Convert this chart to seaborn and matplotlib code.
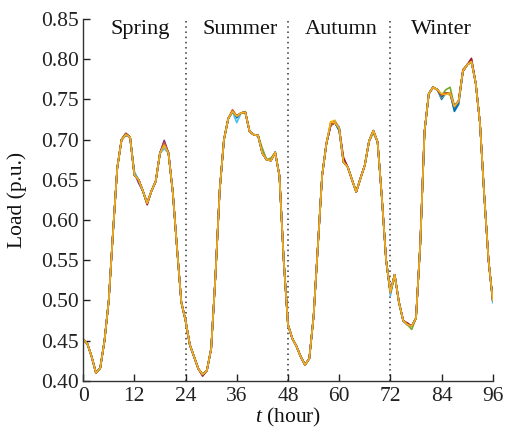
import numpy as np
import pandas as pd
import matplotlib
matplotlib.use("Agg")
import matplotlib.pyplot as plt
import seaborn as sns

# ---------------- data ----------------
hours = list(range(0, 97))

load_base = [
    0.452, 0.446, 0.430, 0.410, 0.416, 0.450, 0.500, 0.585, 0.665, 0.700,  # 0-9
    0.707, 0.703, 0.656, 0.650, 0.636, 0.621, 0.636, 0.648, 0.683, 0.695,  # 10-19
    0.683, 0.635, 0.565, 0.498, 0.475, 0.445, 0.430, 0.415, 0.408, 0.413,  # 20-29
    0.440, 0.530, 0.637, 0.700, 0.726, 0.735, 0.729, 0.733, 0.734, 0.710,  # 30-39
    0.706, 0.705, 0.683, 0.675, 0.674, 0.684, 0.655, 0.550, 0.470, 0.453,  # 40-49
    0.443, 0.430, 0.420, 0.428, 0.480, 0.567, 0.655, 0.695, 0.718, 0.721,  # 50-59
    0.714, 0.672, 0.666, 0.650, 0.635, 0.652, 0.668, 0.698, 0.711, 0.697,  # 60-69
    0.628, 0.550, 0.510, 0.532, 0.498, 0.475, 0.470, 0.468, 0.478, 0.570,  # 70-79
    0.710, 0.757, 0.765, 0.762, 0.755, 0.758, 0.758, 0.741, 0.748, 0.785,  # 80-89
    0.793, 0.797, 0.770, 0.720, 0.630, 0.550, 0.500,                       # 90-96
]

# small scenario-specific departures from the base profile (hour: delta)
dev_s1 = {10: -0.002, 36: -0.002, 60: -0.003, 84: -0.005, 87: -0.006, 88: -0.004, 96: -0.002}
dev_s2 = {10: 0.001, 19: 0.002, 35: 0.001, 59: 0.002, 87: -0.002}
dev_s3 = {9: -0.002, 38: 0.001, 58: 0.004, 59: 0.003, 84: -0.003, 86: -0.003}
dev_s4 = {19: 0.004, 12: 0.003, 13: -0.004, 61: 0.002, 91: 0.002}
dev_s5 = {42: 0.006, 44: 0.003, 86: 0.007, 85: 0.004, 77: -0.004, 68: -0.003}
dev_s6 = {36: -0.008, 19: -0.006, 12: 0.004, 72: -0.004, 96: -0.003, 60: 0.002}
dev_s7 = {61: 0.006, 91: 0.004, 15: -0.002, 28: -0.002, 76: 0.002}
dev_s8 = {87: -0.004, 60: -0.002, 84: -0.002}
dev_s9 = {35: 0.002, 19: 0.001, 89: 0.002}
dev_s10 = {58: 0.004, 84: 0.002, 85: -0.002, 10: -0.001, 19: -0.002}
scenario_devs = [dev_s1, dev_s2, dev_s3, dev_s4, dev_s5,
                 dev_s6, dev_s7, dev_s8, dev_s9, dev_s10]

seasons = ["Spring", "Summer", "Autumn", "Winter"]
season_label_x = [13.3, 36.9, 60.5, 84.0]
season_bounds = [24, 48, 72]

line_colors = ["#0072BD", "#D95319", "#EDB120", "#7E2F8E", "#77AC30",
               "#4DBEEE", "#A2142F", "#0072BD", "#D95319", "#EDB120"]

rows = []
for k, dev in enumerate(scenario_devs):
    for h, v in zip(hours, load_base):
        rows.append({"t": h, "load": v + dev.get(h, 0.0), "scenario": f"S{k+1}"})
df = pd.DataFrame(rows)

# ---------------- plot ----------------
sns.set_theme(style="ticks")
plt.rcParams["font.family"] = ["Liberation Serif", "DejaVu Serif"]
plt.rcParams["mathtext.fontset"] = "custom"
plt.rcParams["mathtext.it"] = "Liberation Serif:italic"
plt.rcParams["mathtext.rm"] = "Liberation Serif"

fig = plt.figure(figsize=(5.07, 4.29), dpi=100)
ax = fig.add_axes([0.164, 0.112, 0.808, 0.844])

sns.lineplot(data=df, x="t", y="load", hue="scenario",
             palette=line_colors, linewidth=1.2, legend=False, ax=ax,
             estimator=None, sort=False)

for b in season_bounds:
    ax.axvline(b, color="#333333", linestyle=(0, (1, 2.4)), linewidth=1.1, zorder=0)

for name, xs in zip(seasons, season_label_x):
    ax.text(xs, 0.837, name, ha="center", va="center", fontsize=16, color="#111111")

ax.set_xlim(0, 96)
ax.set_ylim(0.40, 0.85)
ax.set_xticks(list(range(0, 97, 12)))
ax.set_yticks([0.40, 0.45, 0.50, 0.55, 0.60, 0.65, 0.70, 0.75, 0.80, 0.85])
ax.set_yticklabels([f"{v:.2f}" for v in ax.get_yticks()])
ax.tick_params(direction="in", length=5, width=1, labelsize=15.5, colors="#222222")
ax.tick_params(axis="x", pad=4)
ax.tick_params(axis="y", pad=3)
for side in ["top", "right"]:
    ax.spines[side].set_visible(False)
for side in ["left", "bottom"]:
    ax.spines[side].set_color("#333333")
    ax.spines[side].set_linewidth(1.0)

ax.set_xlabel(r"$t$ (hour)", fontsize=15.5, color="#111111", labelpad=0)
ax.set_ylabel("Load (p.u.)", fontsize=15.5, color="#111111", labelpad=10)

fig.savefig("out.png", dpi=100)
